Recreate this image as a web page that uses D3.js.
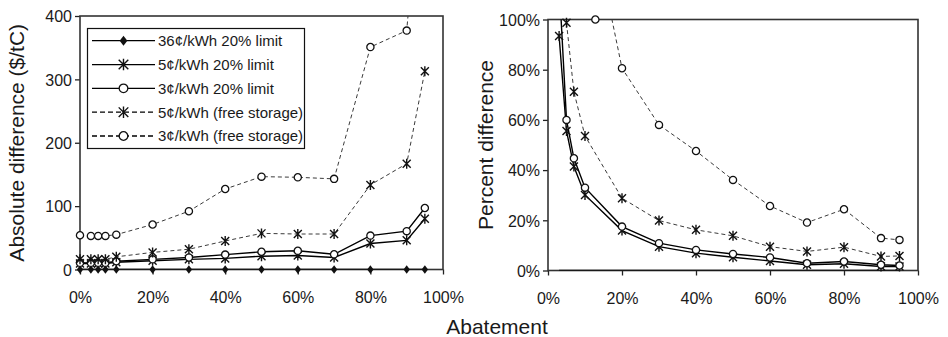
<!DOCTYPE html>
<html>
<head>
<meta charset="utf-8">
<script src="https://cdn.jsdelivr.net/npm/d3@7"></script>
<style>
  body { margin: 0; background: #fff; }
  svg { display: block; font-family: "Liberation Sans", Arial, sans-serif; }
  .tick text { font-size: 16px; fill: #1a1a1a; }
</style>
</head>
<body>
<div id="chart"></div>
<script>
  // abatement levels (%), shared by both panels
  const abatement = [0, 3, 5, 7, 10, 20, 30, 40, 50, 60, 70, 80, 90, 95];

  // left panel: absolute difference ($/tC)
  const abs36Limit = [0, 0, 0, 0, 0, 0, 0, 0, 0, 0, 0, 0, 0, 0];
  const abs5Limit = [9.5, 9.5, 9.5, 9.5, 11.5, 13.7, 16, 17.5, 21, 22, 19, 41, 46, 80];
  const abs3Limit = [10.5, 10.5, 10.5, 10.5, 13, 16, 19, 23.5, 28, 29.5, 24, 53.5, 60.5, 97];
  const abs5Free = [16, 16, 16, 16, 20, 27, 32, 45, 57, 56, 56, 133.5, 167, 313];
  const abs3Free = [54, 53, 53, 53, 55, 71, 92, 127, 146.5, 145.5, 143, 351, 377, 700];

  // right panel: percent difference (no value at 0% abatement)
  const pct36Limit = [null, 0, 0, 0, 0, 0, 0, 0, 0, 0, 0, 0, 0, 0];
  const pct5Limit = [null, 93.4, 55.6, 41.4, 30.1, 15.9, 9.5, 6.9, 5.3, 3.8, 2.3, 2.7, 1.6, 1.6];
  const pct3Limit = [null, 115, 60, 44.7, 33, 17.5, 10.9, 8.2, 6.6, 5.2, 2.9, 3.6, 2.3, 2];
  const pct5Free = [null, 115, 98.7, 71.2, 53.6, 28.8, 19.9, 16.2, 13.8, 9.5, 7.6, 9.3, 5.6, 5.8];
  const pct3Free = [null, 400, 250, 190, 152, 80.6, 58, 47.6, 36.1, 25.7, 19.1, 24.4, 12.9, 12.2];
  // lone circle sitting on the top edge of the right panel
  const pctLoneX = [12.8];
  const pctLoneY = [100];

  const xTicks = [0, 20, 40, 60, 80, 100];
  const absTicks = [0, 100, 200, 300, 400];
  const pctTicks = [0, 20, 40, 60, 80, 100];

  const seriesNames = ['36¢/kWh 20% limit', '5¢/kWh 20% limit', '3¢/kWh 20% limit',
    '5¢/kWh (free storage)', '3¢/kWh (free storage)'];
  const seriesMarks = ['diamond', 'star', 'circle', 'star', 'circle'];
  const seriesDashed = [false, false, false, true, true];

  const width = 948;
  const height = 337;

  const svg = d3.select('#chart').append('svg')
    .attr('width', width)
    .attr('height', height);

  //draws one marker of the given kind into a group
  function drawMark(g, kind, big) {
    const s = big ? 1.2 : 1;
    if (kind === 'circle') {
      g.append('circle').attr('r', 3.6 * s)
        .attr('fill', '#fff').attr('stroke', '#111').attr('stroke-width', 1.3);
    } else if (kind === 'star') {
      const a = 4 * s;
      g.append('path')
        .attr('d', `M${-a},${-a}L${a},${a}M${-a},${a}L${a},${-a}M0,${-a - 1}L0,${a + 1}`)
        .attr('stroke', '#111').attr('stroke-width', 1.4).attr('fill', 'none');
    } else {
      const w = 3.2 * s, h = 4.2 * s;
      g.append('path')
        .attr('d', `M0,${-h}L${w},0L0,${h}L${-w},0Z`)
        .attr('fill', '#111');
    }
  }

  function drawPanel(opt) {
    const x = d3.scaleLinear().domain([0, 100]).range([opt.left, opt.right]);
    const y = d3.scaleLinear().domain(opt.yDomain).range([opt.bottom, opt.top]);

    const clipId = 'clip-' + opt.id;
    svg.append('clipPath').attr('id', clipId)
      .append('rect')
      .attr('x', opt.left).attr('y', opt.top)
      .attr('width', opt.right - opt.left).attr('height', opt.bottom - opt.top);

    //axes
    svg.append('g')
      .attr('transform', `translate(0,${opt.bottom})`)
      .call(d3.axisBottom(x).tickValues(xTicks).tickSize(5).tickPadding(17)
        .tickFormat((d) => d + '%'))
      .call((g) => g.select('.domain').remove())
      .call((g) => g.selectAll('line').attr('stroke', '#222').attr('stroke-width', 1.3));

    svg.append('g')
      .attr('transform', `translate(${opt.left},0)`)
      .call(d3.axisLeft(y).tickValues(opt.yTicks).tickSize(5).tickPadding(3)
        .tickFormat(opt.yFormat))
      .call((g) => g.select('.domain').remove())
      .call((g) => g.selectAll('line').attr('stroke', '#222').attr('stroke-width', 1.3))
      .call((g) => g.selectAll('text').attr('dy', '0.36em'));

    //frame
    svg.append('rect')
      .attr('x', opt.left).attr('y', opt.top)
      .attr('width', opt.right - opt.left).attr('height', opt.bottom - opt.top)
      .attr('fill', 'none').attr('stroke', '#333').attr('stroke-width', 1.6);

    const plot = svg.append('g');
    const lines = plot.append('g').attr('clip-path', `url(#${clipId})`);

    opt.series.forEach((vals, i) => {
      const pts = abatement.map((a, j) => ({ x: a, y: vals[j] }))
        .filter((d) => d.y !== null);
      const line = d3.line().x((d) => x(d.x)).y((d) => y(d.y));
      lines.append('path')
        .datum(pts)
        .attr('d', line)
        .attr('fill', 'none')
        .attr('stroke', seriesDashed[i] ? '#3a3a3a' : '#000')
        .attr('stroke-width', seriesDashed[i] ? 1 : 1.4)
        .attr('stroke-dasharray', seriesDashed[i] ? '4,3' : null);

      if (opt.noMarks && opt.noMarks[i]) return;
      pts.filter((d) => d.y <= opt.yDomain[1]).forEach((d) => {
        const g = plot.append('g').attr('transform', `translate(${x(d.x)},${y(d.y)})`);
        drawMark(g, seriesMarks[i]);
      });
    });

    if (opt.lone) {
      opt.lone.x.forEach((v, j) => {
        const g = plot.append('g').attr('transform', `translate(${x(v)},${y(opt.lone.y[j])})`);
        drawMark(g, 'circle');
      });
    }

    //y title
    svg.append('text')
      .attr('transform', `translate(${opt.titleX},${(opt.top + opt.bottom) / 2}) rotate(-90)`)
      .attr('text-anchor', 'middle')
      .attr('font-size', 21)
      .attr('fill', '#1a1a1a')
      .text(opt.title);
  }

  drawPanel({
    id: 'abs', left: 80, right: 443, top: 16, bottom: 269.5,
    yDomain: [0, 400], yTicks: absTicks, yFormat: (d) => d,
    series: [abs36Limit, abs5Limit, abs3Limit, abs5Free, abs3Free],
    title: 'Absolute difference ($/tC)', titleX: 24
  });

  drawPanel({
    id: 'pct', left: 548, right: 918, top: 19.5, bottom: 270.5,
    yDomain: [0, 100], yTicks: pctTicks, yFormat: (d) => d + '%',
    series: [pct36Limit, pct5Limit, pct3Limit, pct5Free, pct3Free],
    noMarks: [true, false, false, false, false],
    lone: { x: pctLoneX, y: pctLoneY },
    title: 'Percent difference', titleX: 493
  });

  //shared x title
  svg.append('text')
    .attr('x', 497).attr('y', 334)
    .attr('text-anchor', 'middle')
    .attr('font-size', 21)
    .attr('fill', '#1a1a1a')
    .text('Abatement');

  //legend
  const legend = svg.append('g');
  legend.append('rect')
    .attr('x', 87.5).attr('y', 28.5).attr('width', 217).attr('height', 120)
    .attr('fill', '#fff').attr('stroke', '#111').attr('stroke-width', 1.2);

  const legendY = d3.scalePoint().domain(seriesNames).range([40.7, 136]);

  seriesNames.forEach((name, i) => {
    const yy = legendY(name);
    legend.append('line')
      .attr('x1', 92).attr('x2', 155).attr('y1', yy).attr('y2', yy)
      .attr('stroke', '#000').attr('stroke-width', 1.3)
      .attr('stroke-dasharray', seriesDashed[i] ? '5,3' : null);
    drawMark(legend.append('g').attr('transform', `translate(123.5,${yy})`), seriesMarks[i], true);
    legend.append('text')
      .attr('x', 158).attr('y', yy).attr('dy', '0.36em')
      .attr('font-size', 15)
      .attr('fill', '#1a1a1a')
      .text(name);
  });
</script>
</body>
</html>
